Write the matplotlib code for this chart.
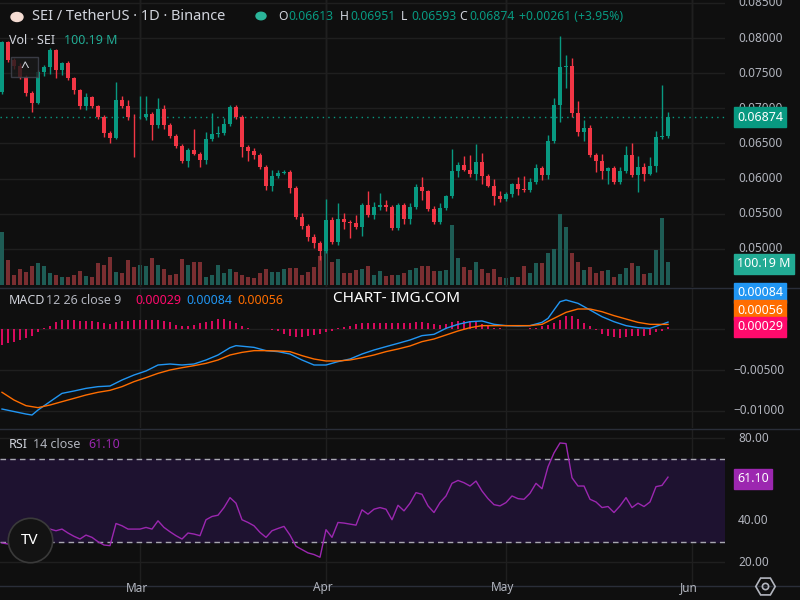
import numpy as np
import pandas as pd
import matplotlib

matplotlib.use("Agg")

import matplotlib.pyplot as plt
from matplotlib.patches import Circle

plt.rcParams["font.family"] = ["Noto Sans", "DejaVu Sans"]

# ---- datos ----
start_date = "2024-02-07"
first_open = 0.0723
closes = [
    .0794, .0769, .0760, .0745, .0722, .0708, .0752, .0759, .0783, .0755,
    .0764, .0743, .0726, .0703, .0716, .0703, .0688, .0665, .0658, .0712,
    .0703, .0688, .0687, .0687, .0692, .0676, .0699, .0676, .0661, .0646,
    .0625, .0641, .0635, .0627, .0656, .0663, .0665, .0678, .0702, .0688,
    .0645, .0639, .0634, .0617, .0589, .0604, .0608, .0610, .0587, .0546,
    .0532, .0517, .0509, .0497, .0541, .0510, .0543, .0538, .0537, .0531,
    .0563, .0548, .0560, .0562, .0560, .0530, .0562, .0543, .0560, .0588,
    .0582, .0557, .0538, .0558, .0575, .0611, .0619, .0613, .0607, .0624,
    .0604, .0590, .0575, .0571, .0578, .0592, .0585, .0584, .0595, .0615,
    .0605, .0653, .0705, .0759, .0760, .0693, .0666, .0672, .0634, .0625,
    .0611, .0615, .0595, .0611, .0634, .0605, .0617, .0607, .0618, .0659,
    .06613, .06874,
]
# mechas superior / inferior en unidades de 0.0001
upper_wick = [
    2, 2, 3, 5, 3, 3, 3, 3, 3, 2, 2, 3, 2, 2, 6, 2, 2, 2, 3, 26,
    6, 9, 4, 30, 25, 3, 16, 6, 3, 3, 3, 3, 29, 3, 10, 30, 10, 8, 3, 3,
    3, 3, 5, 3, 3, 8, 5, 3, 3, 3, 5, 3, 4, 3, 30, 5, 22, 8, 3, 12,
    2, 20, 7, 17, 7, 3, 4, 3, 5, 5, 15, 2, 4, 8, 2, 31, 4, 13, 21, 25,
    13, 3, 10, 7, 3, 2, 11, 19, 6, 6, 3, 9, 9, 44, 16, 12, 17, 12, 4, 3,
    10, 2, 3, 6, 12, 17, 15, 5, 13, 9, 72, 8,
]
lower_wick = [
    2, 3, 4, 3, 4, 13, 2, 6, 10, 12, 8, 3, 5, 4, 5, 3, 3, 6, 8, 2,
    3, 4, 56, 2, 4, 21, 4, 6, 3, 3, 3, 8, 2, 10, 6, 2, 4, 3, 3, 3,
    14, 14, 6, 3, 5, 6, 3, 2, 8, 3, 3, 5, 8, 12, 2, 3, 4, 10, 22, 2,
    13, 3, 5, 4, 6, 3, 3, 7, 7, 3, 13, 3, 3, 3, 2, 3, 9, 2, 4, 9,
    12, 2, 13, 4, 3, 4, 8, 3, 3, 2, 7, 6, 3, 25, 30, 5, 6, 12, 3, 15,
    12, 18, 3, 2, 3, 3, 24, 10, 2, 8, 3, 3,
]
volume_m = [
    232, 109, 43, 70, 55, 83, 97, 83, 54, 43, 36, 36, 43, 62, 39, 36, 94, 87, 123, 58,
    51, 109, 77, 87, 83, 116, 87, 70, 42, 46, 115, 87, 101, 99, 36, 43, 87, 51, 70, 58,
    43, 33, 29, 54, 70, 58, 58, 70, 75, 75, 43, 58, 80, 126, 150, 101, 113,
    54, 54, 65, 70, 83, 43, 61, 39, 43, 43, 52, 65, 74, 83, 83, 61, 61, 65, 261, 117,
    78, 65, 100, 70, 52, 70, 35, 30, 35, 35, 83, 52, 96, 96, 139, 157, 309, 252, 139, 100,
    65, 78, 52, 61, 65, 35, 48, 74, 96, 83, 48, 52, 152, 291, 100.19,
]
macd_idx = [0, 4, 5, 6, 8, 10, 12, 14, 16, 18, 20, 22, 24, 26, 28, 30, 32, 34, 36, 38, 39,
            42, 44, 46, 48, 50, 52, 54, 56, 58, 60, 62, 64, 66, 68, 70, 72, 74, 76, 78, 80,
            82, 84, 86, 88, 90, 91, 92, 93, 94, 96, 98, 100, 102, 104, 106, 108, 110, 111]
macd_line = [-0.00976, -0.01037, -0.01049, -0.00988, -0.00886, -0.00785, -0.00756, -0.00724,
             -0.00703, -0.00695, -0.00622, -0.00561, -0.00512, -0.00439, -0.00427, -0.00439,
             -0.00427, -0.00378, -0.00317, -0.00228, -0.00203, -0.00224, -0.00264, -0.00276,
             -0.00305, -0.00378, -0.00439, -0.00439, -0.00398, -0.00366, -0.00305, -0.00256,
             -0.00215, -0.00175, -0.00134, -0.00081, -0.00065, 0.00008, 0.00057, 0.00089,
             0.00098, 0.00057, 0.00041, 0.00037, 0.00041, 0.00081, 0.0013, 0.00232, 0.00333,
             0.00354, 0.00313, 0.00232, 0.0015, 0.00089, 0.00041, 0.00016, 0.00008, 0.00057,
             0.00084]
signal_idx = list(range(0, 111, 2)) + [111]
signal_line = [-0.00772, -0.00866, -0.00935, -0.00959, -0.00927, -0.00886, -0.00846, -0.00805,
               -0.00772, -0.00748, -0.00703, -0.00642, -0.00593, -0.00541, -0.005, -0.00472,
               -0.00447, -0.00419, -0.00378, -0.00317, -0.00285, -0.00264, -0.00264, -0.00268,
               -0.00276, -0.00325, -0.00366, -0.0039, -0.0039, -0.00378, -0.0035, -0.00317,
               -0.00276, -0.00244, -0.00207, -0.00154, -0.00122, -0.00073, -0.00024, 0.00016,
               0.00041, 0.00041, 0.00041, 0.00041, 0.00041, 0.00057, 0.0013, 0.00203, 0.00244,
               0.00244, 0.00211, 0.00163, 0.00122, 0.00081, 0.00057, 0.00056, 0.00056]
macd_hist = [
    -0.00195, -0.00171, -0.00154, -0.00130, -0.00114, -0.00089, -0.00041, 0.00012, 0.00041, 0.00081,
    0.00110, 0.00110, 0.00110, 0.00102, 0.00102, 0.00098, 0.00089, 0.00073, 0.00061, 0.00081,
    0.00102, 0.00102, 0.00110, 0.00110, 0.00110, 0.00110, 0.00110, 0.00102, 0.00081, 0.00049,
    0.00041, 0.00033, 0.00049, 0.00073, 0.00089, 0.00102, 0.00122, 0.00122, 0.00102, 0.00073,
    0.00041, 0.00008, -0.00004, -0.00004, -0.00004, -0.00008, -0.00020, -0.00061, -0.00081, -0.00093,
    -0.00098, -0.00089, -0.00073, -0.00061, -0.00041, -0.00024, 0.00012, 0.00020, 0.00041, 0.00061,
    0.00073, 0.00073, 0.00073, 0.00073, 0.00073, 0.00073, 0.00073, 0.00073, 0.00073, 0.00089,
    0.00089, 0.00073, 0.00057, 0.00049, 0.00057, 0.00081, 0.00102, 0.00102, 0.00102, 0.00081,
    0.00057, 0.00041, 0.00016, 0.00008, 0.0, 0.0, 0.0, 0.0, 0.00008, 0.00016,
    0.00033, 0.00049, 0.00073, 0.00114, 0.00154, 0.00163, 0.00122, 0.00073, 0.00033, -0.00016,
    -0.00065, -0.00089, -0.00102, -0.00110, -0.00098, -0.00089, -0.00081, -0.00081, -0.00069, -0.00033,
    -0.00020, 0.00029,
]
rsi = [
    29.3, 28.8, 30, 33, 33, 31, 32, 35.2, 36, 35.2,
    36, 34.1, 32.5, 31.2, 33.1, 32, 29.9, 28.3, 28, 38.7,
    37.6, 36, 36, 36, 36.8, 36, 40, 36.8, 34.7, 32.8,
    31.2, 34.1, 33.6, 32.8, 40.5, 42.1, 42.7, 46.4, 51.2, 48.5,
    40.5, 39.2, 37.6, 34.4, 32, 35.2, 36.3, 37.3, 33.1, 27.7,
    26.1, 24.5, 23.7, 22.4, 35.7, 32, 39.2, 38.9, 38.4, 37.9,
    45.3, 43.2, 45.6, 46.4, 45.6, 40.5, 47.5, 44.8, 48.5, 53.6,
    52.8, 47.2, 44, 48.8, 52, 58.1, 59.5, 58.4, 56.8, 59.2,
    54.4, 50.7, 47.8, 47.2, 48.8, 52, 50.7, 50.4, 53.3, 58.1,
    55.5, 66.1, 72.8, 77.6, 77.3, 60.8, 56.8, 56.8, 50.4, 49.1,
    46.4, 46.9, 44, 47.2, 51.2, 46.4, 48.5, 46.9, 49.1, 56.5,
    57.1, 61.1,
]
price_ticks = [0.05, 0.055, 0.06, 0.065, 0.07, 0.075, 0.08, 0.085]
macd_ticks = [-0.005, -0.01]
rsi_ticks = [20, 40, 80]
months = ["Mar", "Apr", "May", "Jun"]
month_starts = ["2024-03-01", "2024-04-01", "2024-05-01", "2024-06-01"]

# ---- estilo ----
BG = "#0f0f0f"
GRID = "#1f1f1f"
TXT = "#b2b5be"
UP = "#089981"
DOWN = "#f23645"
W, H = 800, 600

closes = np.array(closes)
opens = np.concatenate([[first_open], closes[:-1]])
highs = np.maximum(opens, closes) + np.array(upper_wick) * 1e-4
lows = np.minimum(opens, closes) - np.array(lower_wick) * 1e-4
idx = np.arange(len(closes))
up = closes >= opens
dates = pd.date_range(start_date, periods=len(closes), freq="D")
month_pos = [(pd.Timestamp(m) - dates[0]).days for m in month_starts]

fig = plt.figure(figsize=(8, 6), dpi=100, facecolor=BG)


def eje(left, top, width, height):
    ax = fig.add_axes([left / W, 1 - (top + height) / H, width / W, height / H])
    ax.set_facecolor(BG)
    ax.set_xlim(-1 / 3, -1 / 3 + 725 / 6)
    for s in ax.spines.values():
        s.set_visible(False)
    ax.set_xticks([])
    ax.set_yticks([])
    for m in month_pos:
        ax.axvline(m, color=GRID, lw=1, zorder=0)
    return ax


def texto(x, y, s, color=TXT, size=9.5, **kw):
    fig.text(x / W, 1 - y / H, s, color=color, fontsize=size, va="center", **kw)


def caja(x, y, s, color, size=9):
    fig.text(x / W, 1 - y / H, s, color="white", fontsize=size, va="center", ha="left",
             bbox=dict(boxstyle="square,pad=0.25", fc=color, ec=color), zorder=5)


def marca(x, y, **kw):
    fig.add_artist(plt.Line2D([x / W], [1 - y / H], transform=fig.transFigure, **kw))


# ---- panel de precio ----
ax_p = eje(0, 0, 725, 287)
ax_p.set_ylim(0.08 - 249 / 7033, 0.08 + 38 / 7033)
for t in price_ticks:
    ax_p.axhline(t, color=GRID, lw=1, zorder=0)
ax_v = eje(0, 0, 725, 287)
ax_v.patch.set_alpha(0)
ax_v.set_ylim(-2 / 23 * 100.19, 285 / 23 * 100.19)
ax_v.bar(idx, volume_m, width=0.8, color=np.where(up, "#1e5c55", "#7a2e31"), zorder=1)
ax_c = eje(0, 0, 725, 287)
ax_c.patch.set_alpha(0)
ax_c.set_ylim(ax_p.get_ylim())
cols = np.where(up, UP, DOWN)
ax_c.vlines(idx, lows, highs, colors=cols, lw=1, zorder=2)
body = np.maximum(np.abs(closes - opens), 0.00008)
ax_c.bar(idx, body, bottom=np.minimum(opens, closes), width=0.8, color=cols, zorder=3)
ax_c.axhline(closes[-1], color=UP, lw=1, ls=(0, (1, 3)), zorder=1)
for t in price_ticks:
    y = 38 + (0.08 - t) * 7033
    if 0 < y < 287:
        texto(738, y, f"{t:.5f}", size=8.5)
caja(737, 117, f"{closes[-1]:.5f}", UP)
caja(737, 264, "100.19 M", "#22ab94")

# boton de plegado del volumen
fig.add_artist(plt.Rectangle((11 / W, 1 - 77 / H), 27 / W, 20 / H, transform=fig.transFigure,
                             fc="#1a1a1a", ec="#434651", lw=1, alpha=0.8))
texto(24.5, 68, "^", color="#d1d4dc", size=11, ha="center", fontweight="bold")

# ---- panel MACD ----
ax_m = eje(0, 289, 725, 139)
ax_m.set_ylim(-(428 - 329) / 41 * 0.005, (329 - 289) / 41 * 0.005)
for t in [0] + macd_ticks:
    ax_m.axhline(t, color=GRID, lw=1, zorder=0)
ax_m.vlines(idx, 0, macd_hist, colors="#ff0a6c", lw=1.2, zorder=2)
ax_m.plot(macd_idx, macd_line, color="#2196f3", lw=1, zorder=3)
ax_m.plot(signal_idx, signal_line, color="#ff6d00", lw=1, zorder=3)
for t in macd_ticks:
    texto(733, 329 - t / 0.005 * 41, f"\u2212{abs(t):.5f}", size=8.5)
caja(737, 293, "0.00084", "#2196f3")
caja(737, 310, "0.00056", "#ff6d00")
caja(737, 327, "0.00029", "#ff0a6c")

# ---- panel RSI ----
ax_r = eje(0, 430, 725, 155)
ax_r.set_ylim(80 - (585 - 438) / 2.07, 80 + (438 - 430) / 2.07)
for t in [20, 40, 60, 80]:
    ax_r.axhline(t, color=GRID, lw=1, zorder=0)
ax_r.axhspan(30, 70, color="#1e1230", zorder=0.5)
for t in (30, 70):
    ax_r.axhline(t, color="#a8a8b0", lw=1, ls=(0, (4, 3)), zorder=1)
ax_r.plot(idx, rsi, color="#9c27b0", lw=1, zorder=3)
for t in rsi_ticks:
    texto(738, 438 + (80 - t) * 2.07, f"{t:.2f}", size=8.5)
caja(737, 479, f"{rsi[-1]:.2f}", "#9c27b0")

# logo TV
marca(30, 540, marker="o", ms=32, mfc="#131313", mec="#3a3a3a", mew=1.2)
texto(30, 540, "TV", color="white", size=11, ha="center", fontweight="bold")

# separadores
for y in (288, 429, 586):
    fig.add_artist(plt.Line2D([0, 1], [1 - y / H, 1 - y / H], color="#2a2e39", lw=1))

# meses
for m, p in zip(months, month_pos):
    texto((p + 1 / 3) * 6 - 3, 588, m, size=8.5, ha="center", fontweight="bold")

# ---- leyendas ----
fig.add_artist(Circle((17 / W, 1 - 17 / H), 6 / W, color="#f5dcd3", transform=fig.transFigure))
texto(32, 16, "SEI / TetherUS \u00b7 1D \u00b7 Binance", color="#d1d4dc", size=10.5)
fig.add_artist(Circle((261 / W, 1 - 16 / H), 5 / W, color="#2bb59a", transform=fig.transFigure))
for x, lab, val in [(278, "O", "0.06613"), (340, "H", "0.06951"),
                    (401, "L", "0.06593"), (459, "C", "0.06874")]:
    texto(x, 16, lab, color="#d1d4dc", size=8.8)
    texto(x + 10, 16, val, color=UP, size=8.8)
texto(519, 16, "+0.00261 (+3.95%)", color=UP, size=8.8)
texto(9, 41, "Vol \u00b7 SEI", color="#d1d4dc", size=9)
texto(64, 41, "100.19 M", color="#22ab94", size=9)
texto(9, 300, "MACD", color="#d1d4dc", size=9)
texto(46, 300, "12 26 close 9", color=TXT, size=9)
texto(135, 300, "0.00029", color="#ff0a6c", size=9)
texto(186, 300, "0.00084", color="#2196f3", size=9)
texto(237, 300, "0.00056", color="#ff6d00", size=9)
texto(333, 299, "CHART- IMG.COM", color="white", size=11)
texto(9, 445, "RSI", color="#d1d4dc", size=9)
texto(33, 445, "14 close", color=TXT, size=9)
texto(88, 445, "61.10", color="#9c27b0", size=9)

# icono de ajustes
marca(765, 586, marker="H", ms=14, mfc="none", mec=TXT, mew=1.2)
marca(765, 586, marker="o", ms=4.5, mfc="none", mec=TXT, mew=1.2)

fig.savefig("out.png", dpi=100, facecolor=BG)
